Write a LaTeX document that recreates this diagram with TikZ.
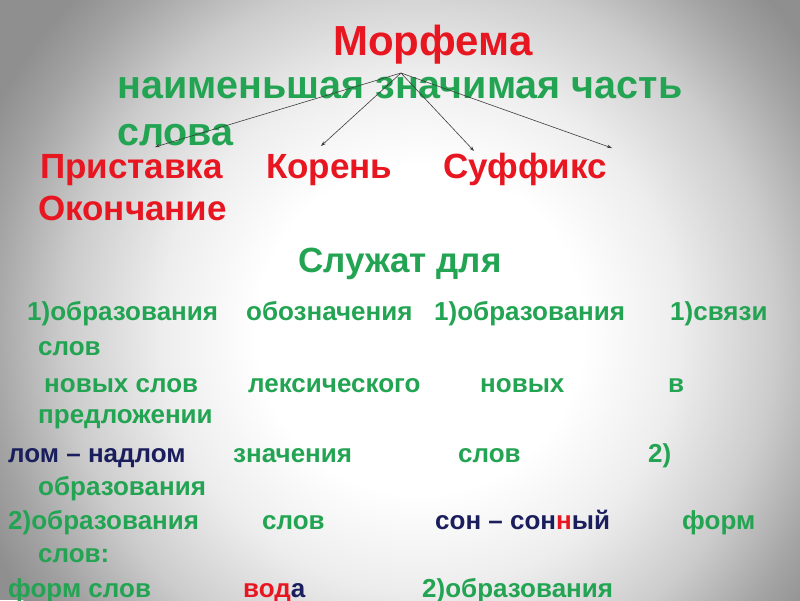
\documentclass[tikz,border=0pt]{standalone}
\usepackage{fontspec}
\setmainfont{Liberation Sans}
\usetikzlibrary{arrows.meta}
\definecolor{mred}{RGB}{232,22,32}
\definecolor{mgreen}{RGB}{34,164,82}
\definecolor{mnavy}{RGB}{26,30,92}
\definecolor{mline}{RGB}{60,60,60}
\pgfdeclareradialshading{slidebg}{\pgfpoint{0bp}{0bp}}{%
  color(0bp)=(white); color(8.5bp)=(white); color(13.5bp)=(white!93!black);
  color(18.5bp)=(white!80!black); color(22.5bp)=(white!64!black);
  color(25bp)=(white!56!black); color(50bp)=(white!56!black)}
\tikzset{
  txt/.style={anchor=base west, inner sep=0pt, font=\bfseries},
  title/.style={txt, text=mred, font=\bfseries\fontsize{42}{48}\selectfont},
  defn/.style={txt, text=mgreen, font=\bfseries\fontsize{39.5}{46}\selectfont},
  part/.style={txt, text=mred, font=\bfseries\fontsize{35}{40}\selectfont},
  head/.style={txt, text=mgreen, font=\bfseries\fontsize{35}{40}\selectfont},
  row/.style={txt, text=mgreen, font=\bfseries\fontsize{26}{30}\selectfont},
  ex/.style={row, text=mnavy},
  conn/.style={draw=mline, line width=0.6pt, -{Stealth[length=5pt,width=3.5pt]}}
}
\begin{document}
\begin{tikzpicture}[x=1pt,y=-1pt]
\useasboundingbox (0,0) rectangle (800,600);
\begin{scope}
\clip (0,0) rectangle (800,600);
\fill[white!56!black] (0,0) rectangle (800,600);
\shade[shading=slidebg] (420,330) circle [radius=480];
\end{scope}
% headings
\node[title] (morf) at (333,55) {Морфема};
\node[defn] (def1) at (117,98) {наименьшая значимая часть};
\node[defn] (def2) at (117,145) {слова};
\node[part] (pref) at (40,178) {Приставка};
\node[part] (root) at (266,178) {Корень};
\node[part] (suff) at (443,178) {Суффикс};
\node[part] (ending) at (38,220) {Окончание};
\node[head] (serve) at (298,272) {Служат для};
% rows
\node[row] (r1a) at (27,320) {1)образования};
\node[row] (r1b) at (246,320) {обозначения};
\node[row] (r1c) at (434,320) {1)образования};
\node[row] (r1d) at (670,320) {1)связи};
\node[row] (r2) at (38,355) {слов};
\node[row] (r3a) at (44,392) {новых слов};
\node[row] (r3b) at (248,392) {лексического};
\node[row] (r3c) at (480,392) {новых};
\node[row] (r3d) at (668,392) {в};
\node[row] (r4) at (38,423) {предложении};
\node[ex] (r5a) at (8,462) {лом – надлом};
\node[row] (r5b) at (233,462) {значения};
\node[row] (r5c) at (458,462) {слов};
\node[row] (r5d) at (648,462) {2)};
\node[row] (r6) at (38,495) {образования};
\node[row] (r7a) at (8,529) {2)образования};
\node[row] (r7b) at (262,529) {слов};
\node[ex] (r7c) at (435,529) {сон – сон\textcolor{mred}{н}ый};
\node[row] (r7d) at (682,529) {форм};
\node[row] (r8) at (38,562) {слов:};
\node[row] (r9a) at (8,597) {форм слов};
\node[row, text=mred] (r9b) at (243,597) {вод\textcolor{mnavy}{а}};
\node[row] (r9c) at (422,597) {2)образования};
% connectors
\coordinate (apex) at (401,73);
\coordinate (tslova) at (155,147);
\coordinate (troot) at (321,146);
\coordinate (tsuff) at (474,151);
\coordinate (tend) at (612,148);
\draw[conn] (apex) -- (tslova);
\draw[conn] (apex) -- (troot);
\draw[conn] (apex) -- (tsuff);
\draw[conn] (apex) -- (tend);
\end{tikzpicture}
\end{document}
